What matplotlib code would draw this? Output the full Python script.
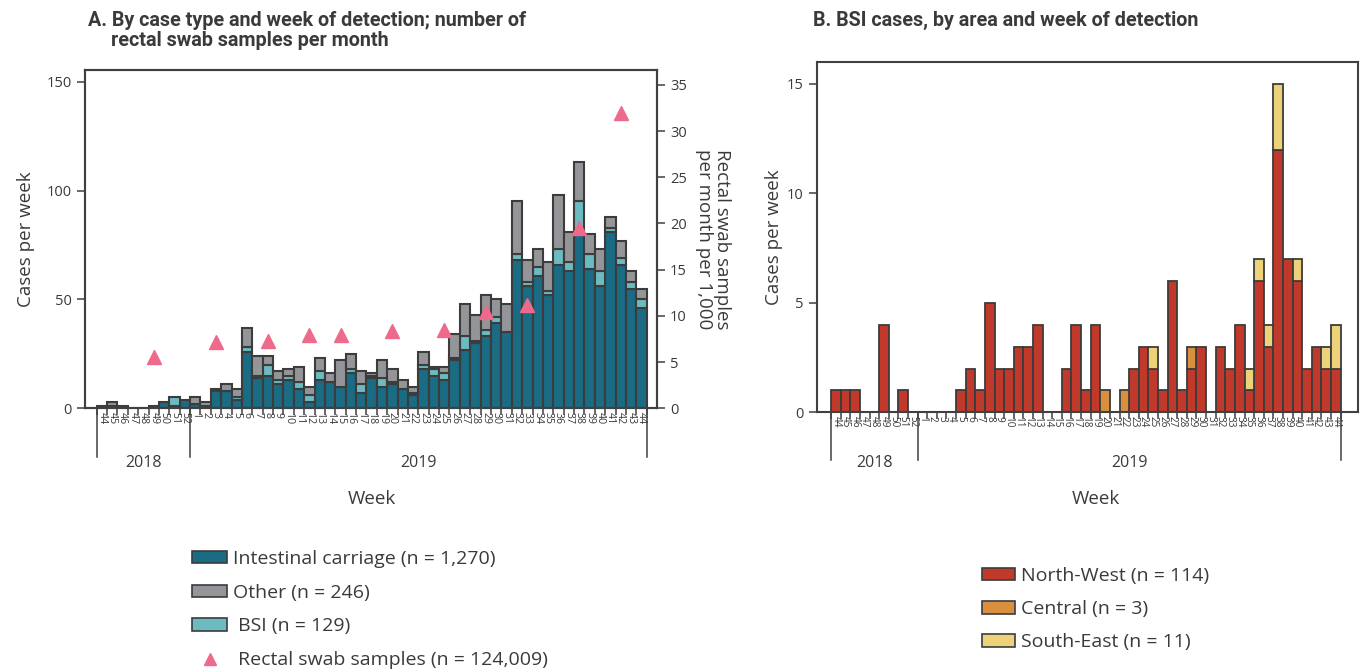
import matplotlib
matplotlib.use("Agg")
import matplotlib.pyplot as plt
import matplotlib.transforms as mtransforms
from matplotlib.patches import Patch
from matplotlib.lines import Line2D
import numpy as np

# ---------------- data ----------------
weeks_2018 = list(range(44, 53))
weeks_2019 = list(range(1, 45))
week_labels = [str(w) for w in weeks_2018 + weeks_2019]
year_labels = ["2018", "2019"]

# Panel A: cases per week by type (2018 w44 ... 2019 w44)
intestinal = [1, 1, 1, 0, 0, 1, 3, 1, 4,
              2, 1, 8, 8, 4, 26, 14, 15, 11, 13, 9, 3, 13, 12, 10, 16, 7, 14, 10, 11,
              9, 6, 18, 15, 13, 22, 27, 30, 33, 39, 35, 68, 56, 61, 52, 66, 63, 80,
              64, 56, 81, 66, 55, 46]
bsi = [0, 0, 0, 0, 0, 0, 0, 4, 0,
       0, 0, 0, 0, 1, 2, 1, 5, 2, 2, 3, 3, 4, 0, 0, 2, 4, 1, 4, 1,
       0, 1, 2, 3, 3, 1, 6, 1, 3, 3, 0, 3, 2, 4, 2, 7, 4, 15,
       7, 7, 2, 3, 3, 4]
other = [0, 2, 0, 0, 0, 0, 0, 0, 0,
         3, 2, 1, 3, 4, 9, 9, 4, 4, 3, 7, 4, 6, 4, 12, 7, 6, 1, 8, 6,
         4, 3, 6, 1, 3, 11, 15, 12, 16, 8, 13, 24, 10, 8, 13, 25, 14, 18,
         9, 10, 5, 8, 5, 5]

# Rectal swab samples per month per 1,000 (plotted at a mid-month week)
swab_weeks = ["2018-49", "2019-3", "2019-8", "2019-12", "2019-15", "2019-20",
              "2019-25", "2019-29", "2019-33", "2019-38", "2019-42"]
swab_values = [5.6, 7.2, 7.3, 7.9, 7.9, 8.4, 8.5, 10.4, 11.2, 19.5, 32.0]

# Panel B: BSI cases by area
north_west = [1, 1, 1, 0, 0, 4, 0, 1, 0,
              0, 0, 0, 0, 1, 2, 1, 5, 2, 2, 3, 3, 4, 0, 0, 2, 4, 1, 4, 0,
              0, 0, 2, 3, 2, 1, 6, 1, 2, 3, 0, 3, 2, 4, 1, 6, 3, 12,
              7, 6, 2, 3, 2, 2]
central = [0, 0, 0, 0, 0, 0, 0, 0, 0,
           0, 0, 0, 0, 0, 0, 0, 0, 0, 0, 0, 0, 0, 0, 0, 0, 0, 0, 0, 1,
           0, 1, 0, 0, 0, 0, 0, 0, 1, 0, 0, 0, 0, 0, 0, 0, 0, 0,
           0, 0, 0, 0, 0, 0]
south_east = [0, 0, 0, 0, 0, 0, 0, 0, 0,
              0, 0, 0, 0, 0, 0, 0, 0, 0, 0, 0, 0, 0, 0, 0, 0, 0, 0, 0, 0,
              0, 0, 0, 0, 1, 0, 0, 0, 0, 0, 0, 0, 0, 0, 1, 1, 1, 3,
              0, 1, 0, 0, 1, 2]

legend_A = ["Intestinal carriage (n = 1,270)", "Other (n = 246)", " BSI (n = 129)",
            " Rectal swab samples (n = 124,009)"]
legend_B = ["North-West (n = 114)", "Central (n = 3)", "South-East (n = 11)"]

# ---------------- style ----------------
C_IC = "#1a6b84"
C_OTHER = "#939598"
C_BSI = "#6bbbc0"
C_SWAB = "#ee6a8b"
C_NW = "#c0392b"
C_CEN = "#d8903e"
C_SE = "#edd27a"
EDGE = "#3c3c3c"
TXT = "#3a3a3a"
FONT = ["Open Sans", "DejaVu Sans"]
TITLE_FONT = ["Roboto", "DejaVu Sans"]

plt.rcParams["font.family"] = FONT
plt.rcParams["axes.edgecolor"] = "#404040"
plt.rcParams["xtick.color"] = "#404040"
plt.rcParams["ytick.color"] = "#404040"

W, H = 1362, 671
fig = plt.figure(figsize=(W / 100, H / 100), dpi=100)

def fx(px):
    return px / W

def fy(py):
    return 1 - py / H

axA = fig.add_axes([fx(85), fy(408.3), fx(656.7) - fx(85), fy(70) - fy(408.3)])
axB = fig.add_axes([fx(817), fy(412.3), fx(1358) - fx(817), fy(62) - fy(412.3)])

n = len(week_labels)
x = np.arange(n)


def stacked(ax, series, colors, lw=1.5):
    bottom = np.zeros(n)
    for vals, col in zip(series, colors):
        v = np.asarray(vals, dtype=float)
        m = v > 0
        ax.bar(x[m], v[m], bottom=bottom[m], width=1.0, color=col,
               edgecolor=EDGE, linewidth=lw, zorder=2)
        bottom += v


def week_axis(ax, xlim, sep_depth, year_y, fs):
    ax.set_xlim(*xlim)
    ax.set_xticks(x)
    ax.set_xticklabels(week_labels, rotation=-90, fontsize=fs, color=TXT)
    ax.tick_params(axis="x", which="major", length=0, pad=3)
    ax.set_xticks(np.arange(-0.5, n, 1.0), minor=True)
    ax.tick_params(axis="x", which="minor", length=5, width=1.1)
    trans = mtransforms.blended_transform_factory(ax.transData, ax.transAxes)
    n18 = len(weeks_2018)
    for xs in (-0.5, n18 - 0.5, n - 0.5):
        ax.plot([xs, xs], [0, -sep_depth], transform=trans, color="#404040",
                lw=1.1, clip_on=False)
    ax.text((n18 - 1) / 2, year_y, year_labels[0], transform=trans, ha="center",
            va="center", fontsize=11.5, color=TXT)
    ax.text(n18 + (len(weeks_2019) - 1) / 2, year_y, year_labels[1], transform=trans,
            ha="center", va="center", fontsize=11.5, color=TXT)
    for s in ax.spines.values():
        s.set_linewidth(1.5)


# ---------------- panel A ----------------
stacked(axA, [intestinal, bsi, other], [C_IC, C_BSI, C_OTHER])
axA.set_ylim(0, 155.4)
axA.set_yticks([0, 50, 100, 150])
axA.tick_params(axis="y", length=6, width=1.1, labelsize=10.5, labelcolor=TXT)
axA.set_ylabel("Cases per week", fontsize=13.5, color=TXT, labelpad=8)
week_axis(axA, (-1.63, n - 1 + 1.47), 0.145, -0.162, 7.6)

axA2 = axA.twinx()
idx = {lab: i for i, lab in enumerate(
    [f"2018-{w}" for w in weeks_2018] + [f"2019-{w}" for w in weeks_2019])}
sx = [idx[s] for s in swab_weeks]
axA2.plot(sx, swab_values, linestyle="none", marker="^", markersize=10,
          color=C_SWAB, zorder=5)
axA2.set_ylim(0, 36.6)
axA2.set_yticks(range(0, 36, 5))
axA2.tick_params(axis="y", length=6, width=1.1, labelsize=10.5, labelcolor=TXT)
axA2.set_ylabel("Rectal swab samples\nper month per 1,000", rotation=-90,
                fontsize=13.5, color=TXT, labelpad=32, linespacing=1.0)
for s in axA2.spines.values():
    s.set_linewidth(1.5)

# ---------------- panel B ----------------
stacked(axB, [north_west, central, south_east], [C_NW, C_CEN, C_SE], lw=1.3)
axB.set_ylim(0, 16.0)
axB.set_yticks([0, 5, 10, 15])
axB.tick_params(axis="y", length=6, width=1.1, labelsize=10.5, labelcolor=TXT)
axB.set_ylabel("Cases per week", fontsize=13.5, color=TXT, labelpad=3)
week_axis(axB, (-1.96, n - 1 + 2.3), 0.135, -0.145, 7.2)

# ---------------- titles / labels ----------------
fig.text(fx(88), fy(20), "A. By case type and week of detection; number of",
         fontsize=14.2, fontweight="bold", color=TXT, family=TITLE_FONT,
         ha="left", va="center")
fig.text(fx(111), fy(41), "rectal swab samples per month",
         fontsize=14.2, fontweight="bold", color=TXT, family=TITLE_FONT,
         ha="left", va="center")
fig.text(fx(813), fy(20), "B. BSI cases, by area and week of detection",
         fontsize=14.2, fontweight="bold", color=TXT, family=TITLE_FONT,
         ha="left", va="center")
fig.text(fx(372), fy(499), "Week", fontsize=13.5, color=TXT, ha="center", va="center")
fig.text(fx(1096), fy(499), "Week", fontsize=13.5, color=TXT, ha="center", va="center")

# ---------------- legends ----------------
hA = [Patch(facecolor=C_IC, edgecolor=EDGE, linewidth=1.2),
      Patch(facecolor=C_OTHER, edgecolor=EDGE, linewidth=1.2),
      Patch(facecolor=C_BSI, edgecolor=EDGE, linewidth=1.2),
      Line2D([], [], linestyle="none", marker="^", markersize=8, color=C_SWAB)]
fig.legend(hA, legend_A, loc="upper left", bbox_to_anchor=(fx(192), fy(550)),
           frameon=False, fontsize=14, handlelength=1.8, handleheight=0.62,
           handletextpad=0.3, labelspacing=0.81, borderpad=0, borderaxespad=0,
           labelcolor=TXT)
hB = [Patch(facecolor=C_NW, edgecolor=EDGE, linewidth=1.2),
      Patch(facecolor=C_CEN, edgecolor=EDGE, linewidth=1.2),
      Patch(facecolor=C_SE, edgecolor=EDGE, linewidth=1.2)]
fig.legend(hB, legend_B, loc="upper left", bbox_to_anchor=(fx(982), fy(567)),
           frameon=False, fontsize=14, handlelength=1.7, handleheight=0.62,
           handletextpad=0.3, labelspacing=0.78, borderpad=0, borderaxespad=0,
           labelcolor=TXT)

fig.savefig("out.png", dpi=100)
